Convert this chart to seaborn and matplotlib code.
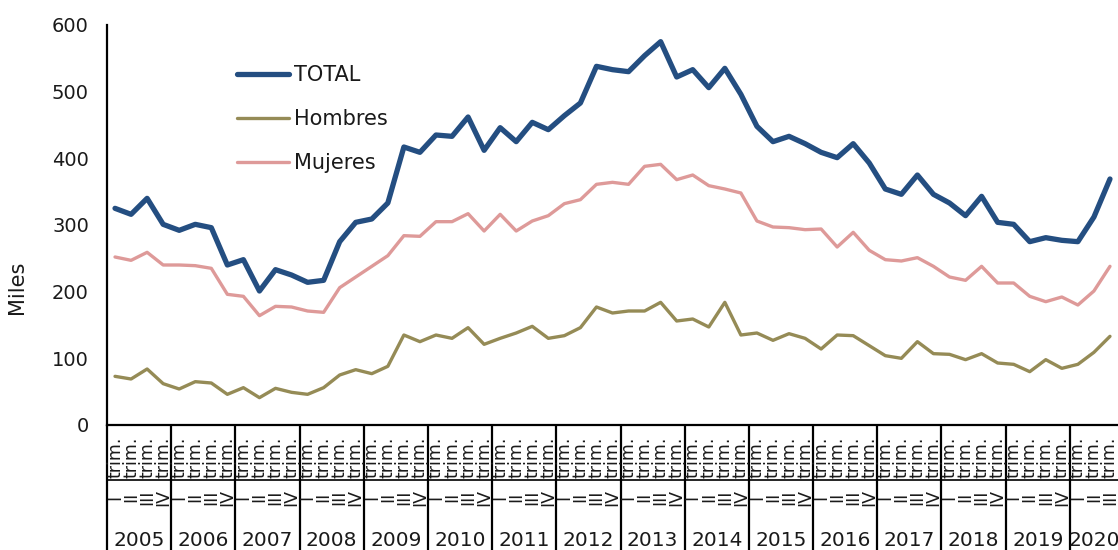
import pandas as pd
import matplotlib
matplotlib.use("Agg")
import matplotlib.pyplot as plt
import seaborn as sns

# quarterly data, 2005 Q1 to 2020 Q3 (thousands)
years = ["2005", "2006", "2007", "2008", "2009", "2010", "2011", "2012",
         "2013", "2014", "2015", "2016", "2017", "2018", "2019", "2020"]
quarters = ["I", "II", "III", "IV"]

total = [325, 316, 340, 301, 292, 301, 296, 240, 248, 201, 233, 225,
         214, 217, 275, 304, 309, 333, 417, 409, 435, 433, 462, 412,
         446, 425, 454, 443, 464, 483, 538, 533, 530, 554, 575, 522,
         533, 506, 535, 496, 448, 425, 433, 422, 409, 401, 422, 393,
         354, 346, 375, 346, 333, 314, 343, 304, 301, 275, 281, 277,
         275, 312, 369]
hombres = [73, 69, 84, 62, 54, 65, 63, 46, 56, 41, 55, 49,
           46, 56, 75, 83, 77, 88, 135, 125, 135, 130, 146, 121,
           130, 138, 148, 130, 134, 146, 177, 168, 171, 171, 184, 156,
           159, 147, 184, 135, 138, 127, 137, 130, 114, 135, 134, 119,
           104, 100, 125, 107, 106, 98, 107, 93, 91, 80, 98, 85,
           91, 109, 133]
mujeres = [252, 247, 259, 240, 240, 239, 235, 196, 193, 164, 178, 177,
           171, 169, 206, 222, 238, 254, 284, 283, 305, 305, 317, 291,
           316, 291, 306, 314, 332, 338, 361, 364, 361, 388, 391, 368,
           375, 359, 354, 348, 306, 297, 296, 293, 294, 267, 289, 262,
           248, 246, 251, 238, 222, 217, 238, 213, 213, 193, 185, 192,
           180, 201, 238]

n = len(total)
periods = [f"{q} trim. {y}" for y in years for q in quarters][:n]
df = pd.DataFrame({"idx": range(n), "periodo": periods,
                   "TOTAL": total, "Hombres": hombres, "Mujeres": mujeres})

colors = {"TOTAL": "#244E81", "Hombres": "#958B56", "Mujeres": "#DE9A99"}
widths = {"TOTAL": 3.8, "Hombres": 2.4, "Mujeres": 2.4}

sns.set_style("white")
plt.rcParams["font.family"] = ["DejaVu Sans"]
txt_color = "#1a1a1a"

fig = plt.figure(figsize=(11.18, 5.5), dpi=100)
ax = fig.add_axes([107 / 1118, 1 - 425 / 550, 1 - 107 / 1118, 400 / 550])

for name in ["TOTAL", "Hombres", "Mujeres"]:
    sns.lineplot(data=df, x="idx", y=name, ax=ax, color=colors[name],
                 linewidth=widths[name], label=name,
                 solid_joinstyle="round", solid_capstyle="round")

ax.set_xlim(-0.5, n - 0.5)
ax.set_ylim(0, 600)
ax.set_yticks(range(0, 601, 100))
ax.tick_params(axis="y", length=0, pad=13, labelsize=14, labelcolor=txt_color)
ax.set_xticks([])
ax.set_xlabel("")
ax.set_ylabel("Miles", fontsize=15, color=txt_color)
ax.yaxis.set_label_coords(-0.079, 0.345)

sns.despine(ax=ax, top=True, right=True)
for side in ["left", "bottom"]:
    ax.spines[side].set_color("black")
    ax.spines[side].set_linewidth(1.6)

# two-level category axis: quarters and years
xtr = ax.get_xaxis_transform()
for i in range(n):
    q = quarters[i % 4]
    ax.text(i, -12 / 400, "trim.", transform=xtr, rotation=90, ha="center",
            va="top", fontsize=12.5, color=txt_color, clip_on=False)
    ax.text(i, -72 / 400, q, transform=xtr, rotation=90, ha="center",
            va="center", fontsize=12.5, color=txt_color, clip_on=False)

ax.plot([-0.5, n - 0.5], [-55 / 400, -55 / 400], transform=xtr,
        color="black", linewidth=1.2, clip_on=False)

bounds = [-0.5 + 4 * k for k in range(len(years))]
ax.vlines(bounds, -125 / 400, 0, transform=xtr, color="black",
          linewidth=1.6, clip_on=False)
for k, y in enumerate(years):
    start = 4 * k - 0.5
    end = min(start + 4, n - 0.5)
    ax.text((start + end) / 2, -115 / 400, y, transform=xtr, ha="center",
            va="center", fontsize=14.5, color=txt_color, clip_on=False)

leg = ax.legend(loc="upper left", bbox_to_anchor=((237 - 107) / 1010, 0.9),
                frameon=False, fontsize=15, handlelength=2.5,
                handletextpad=0.22, labelspacing=1.15, borderpad=0,
                borderaxespad=0)
for t in leg.get_texts():
    t.set_color(txt_color)

plt.savefig("out.png", dpi=100)
plt.close()
